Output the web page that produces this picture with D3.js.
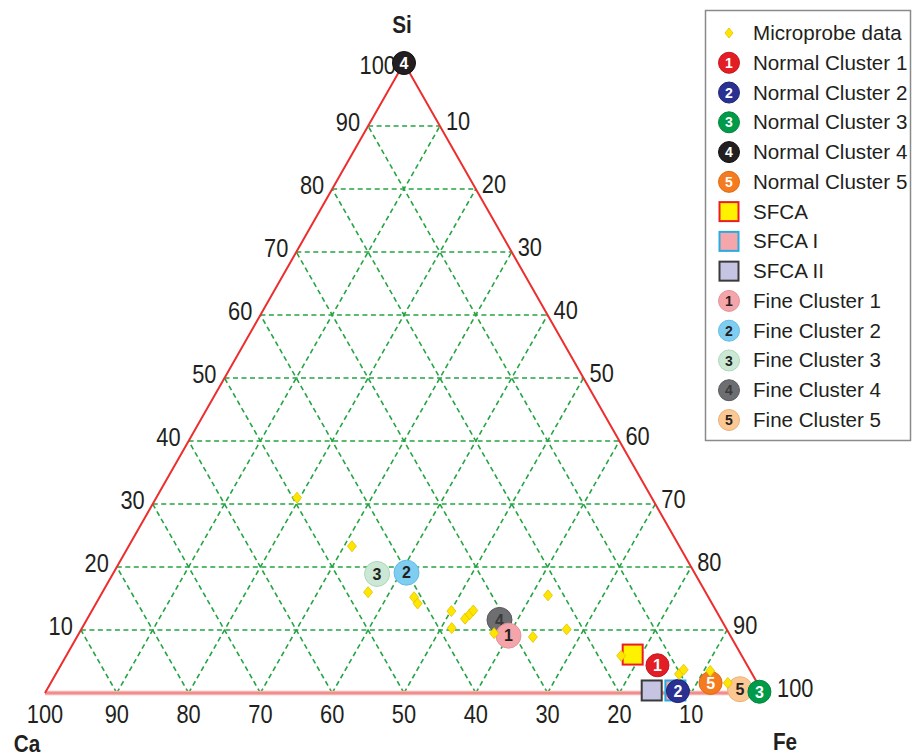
<!DOCTYPE html>
<html>
<head>
<meta charset="utf-8">
<script src="https://cdn.jsdelivr.net/npm/d3@7"></script>
<style>
	body { margin: 0; background: #fff; }
	text { font-family: "Liberation Sans", Arial, sans-serif; fill: #231f20; }
</style>
</head>
<body>
<svg width="912" height="756"></svg>
<script>
// ternary values (percent)
var gridValues = [10, 20, 30, 40, 50, 60, 70, 80, 90]
var tickValues = [10, 20, 30, 40, 50, 60, 70, 80, 90, 100]

// microprobe spots: Si and Fe (Ca = 100 - Si - Fe)
var probeSi = [31.0, 23.3, 16.0, 15.2, 14.2, 13.0, 11.8, 12.5, 13.1, 10.3, 9.5, 15.5, 8.9, 10.1, 5.9, 3.0, 3.7, 3.5, 1.6]
var probeFe = [19.6, 31.1, 37.0, 43.8, 44.8, 50.1, 52.6, 52.9, 53.1, 51.5, 57.8, 62.3, 63.5, 67.6, 77.3, 86.8, 87.1, 90.9, 94.3]

// named phases / clusters
var markerNames = ["Normal Cluster 1", "Normal Cluster 2", "Normal Cluster 3", "Normal Cluster 4", "Normal Cluster 5",
	"SFCA", "SFCA I", "SFCA II",
	"Fine Cluster 1", "Fine Cluster 2", "Fine Cluster 3", "Fine Cluster 4", "Fine Cluster 5"]
var markerNums = ["1", "2", "3", "4", "5", "", "", "", "1", "2", "3", "4", "5"]
var markerSi = [4.4, 0.3, 0.2, 100, 1.6, 6.1, 0.4, 0.4, 9.1, 19.1, 18.9, 11.6, 0.6]
var markerFe = [83.1, 88.0, 99.4, 0, 91.9, 78.8, 87.6, 84.3, 60.0, 40.8, 36.8, 57.5, 96.5]

// styles (kept apart from values)
var markerShape = ["c", "c", "c", "c", "c", "s", "s", "s", "c", "c", "c", "c", "c"]
var markerFill = ["#e31d25", "#2b3192", "#009b48", "#231f20", "#f47b20", "#fff200", "#f4a6aa", "#c5c4e2",
	"#f5a4aa", "#7fcdf1", "#cbe8d4", "#6d6e71", "#fbc894"]
var markerStroke = ["#c8161d", "#1f2575", "#00843c", "#111", "#e06a10", "#ed1c24", "#29abe2", "#3a3a3a",
	"#e4949a", "#62bde4", "#aed6ba", "#58595b", "#e8b07a"]
var markerText = ["#fff", "#fff", "#fff", "#fff", "#fff", "", "", "", "#231f20", "#231f20", "#231f20", "#3a3a3a", "#231f20"]

var svg = d3.select("svg")

// projection: x from (Fe + Si/2), y from Si
var x = d3.scaleLinear().domain([0, 100]).range([45, 763])
var y = d3.scaleLinear().domain([0, 100]).range([693, 63])
function pt(si, fe) {
	return [x(fe + si / 2), y(si)]
}

function txt(g, px, py, str, anchor, size, sx, weight) {
	return g.append("text")
		.attr("transform", "translate(" + px + "," + py + ") scale(" + sx + ",1)")
		.attr("text-anchor", anchor)
		.attr("font-size", size)
		.attr("font-weight", weight || "normal")
		.text(str)
}

var line = d3.line()

// grid
var grid = svg.append("g")
	.attr("fill", "none")
	.attr("stroke", "#26a444")
	.attr("stroke-width", 1.6)
	.attr("stroke-dasharray", "5,3.5")
gridValues.forEach(function (v) {
	grid.append("path").attr("d", line([pt(v, 0), pt(v, 100 - v)]))
	grid.append("path").attr("d", line([pt(0, v), pt(100 - v, v)]))
	grid.append("path").attr("d", line([pt(0, 100 - v), pt(100 - v, 0)]))
})

// triangle
svg.append("path")
	.attr("d", line([pt(0, 0), pt(0, 100)]))
	.attr("stroke", "#f6b0b0").attr("stroke-width", 4.5)
svg.append("path")
	.attr("d", line([pt(0, 0), pt(0, 100)]))
	.attr("stroke", "#ef6b6b").attr("stroke-width", 1.2)
svg.append("path")
	.attr("d", line([pt(0, 0), pt(100, 0), pt(0, 100)]))
	.attr("fill", "none")
	.attr("stroke", "#ee2d2d").attr("stroke-width", 2)

// tick labels
var ticks = svg.append("g")
tickValues.forEach(function (v) {
	var b = pt(0, 100 - v)
	txt(ticks, b[0], b[1] + 30, v, "middle", 26, 0.84)
	var l = pt(v, 0)
	txt(ticks, l[0] - 8, l[1] + (v === 100 ? 11 : 5), v, "end", 26, 0.84)
	var r = pt(100 - v, v)
	txt(ticks, r[0] + (v === 100 ? 14 : 6), r[1] + 4, v, "start", 26, 0.84)
})

// corner labels
txt(svg, 402, 33, "Si", "middle", 23, 0.9, "bold")
txt(svg, 27, 752, "Ca", "middle", 23, 0.9, "bold")
txt(svg, 785, 750, "Fe", "middle", 23, 0.9, "bold")

function drawMarker(g, i, cx, cy, r, fs) {
	if (markerShape[i] === "s") {
		g.append("rect")
			.attr("x", cx - r).attr("y", cy - r)
			.attr("width", 2 * r).attr("height", 2 * r)
			.attr("fill", markerFill[i])
			.attr("stroke", markerStroke[i])
			.attr("stroke-width", 2)
		return
	}
	g.append("circle")
		.attr("cx", cx).attr("cy", cy).attr("r", r)
		.attr("fill", markerFill[i])
		.attr("stroke", markerStroke[i])
		.attr("stroke-width", 1)
	g.append("text")
		.attr("x", cx).attr("y", cy + fs * 0.36)
		.attr("text-anchor", "middle")
		.attr("font-size", fs)
		.attr("font-weight", "bold")
		.style("fill", markerText[i])
		.text(markerNums[i])
}

function diamond(g, cx, cy, w, h) {
	g.append("path")
		.attr("d", line([[cx, cy - h], [cx + w, cy], [cx, cy + h], [cx - w, cy]]) + "Z")
		.attr("fill", "#ffe600")
		.attr("stroke", "#e0c000")
		.attr("stroke-width", 0.8)
}

// markers: squares, fine (reverse), normal, then probe spots on top
var marks = svg.append("g")
var order = [5, 6, 7, 12, 11, 10, 9, 8, 0, 1, 2, 3, 4]
order.forEach(function (i) {
	var p = pt(markerSi[i], markerFe[i])
	var big = i >= 8 ? 12.5 : 11.5
	drawMarker(marks, i, p[0], p[1], markerShape[i] === "s" ? 10 : big, 16)
})
probeSi.forEach(function (s, i) {
	var p = pt(s, probeFe[i])
	diamond(marks, p[0], p[1], 4.5, 5.5)
})

// legend
var leg = svg.append("g")
leg.append("rect")
	.attr("x", 705.5).attr("y", 10.5)
	.attr("width", 205).attr("height", 430)
	.attr("fill", "#fff")
	.attr("stroke", "#8a8a8a")
	.attr("stroke-width", 1.5)
var rowY = d3.scaleLinear().domain([0, 13]).range([33, 420])
diamond(leg, 729, rowY(0), 4, 5)
txt(leg, 753, rowY(0) + 7, "Microprobe data", "start", 21, 0.98)
markerNames.forEach(function (name, i) {
	var cy = rowY(i + 1)
	drawMarker(leg, i, 729, cy, markerShape[i] === "s" ? 9.5 : 10.5, 14)
	txt(leg, 753, cy + 7, name, "start", 21, 0.98)
})
</script>
</body>
</html>
